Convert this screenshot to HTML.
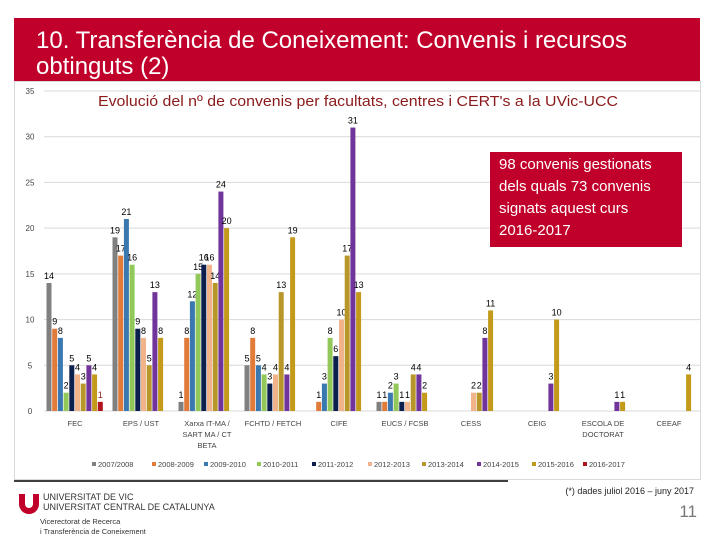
<!DOCTYPE html>
<html><head><meta charset="utf-8"><style>
body{margin:0;width:720px;height:540px;background:#fff;overflow:hidden;font-family:"Liberation Sans",sans-serif;position:relative}
#title{position:absolute;left:14px;top:18px;width:686px;height:63px;background:#c0002a;}
#title span{position:absolute;left:22px;top:10px;color:#fff;font-size:24px;line-height:26px;white-space:nowrap}
#callout{position:absolute;left:490px;top:152px;width:192px;height:95px;background:#c0002a;color:#fff;font-size:15px;line-height:22px;padding:2px 0 0 9px;box-sizing:border-box;white-space:nowrap}
svg{position:absolute;left:0;top:0}
</style></head><body>
<div id="title"><span>10. Transferència de Coneixement: Convenis i recursos<br>obtinguts (2)</span></div>
<svg id="chart" width="720" height="540"></svg>
<div id="callout">98 convenis gestionats<br>dels quals 73 convenis<br>signats aquest curs<br>2016-2017</div>
<script>
const categories=[["FEC"],["EPS / UST"],["Xarxa IT-MA /","SART MA / CT","BETA"],["FCHTD / FETCH"],["CIFE"],["EUCS / FCSB"],["CESS"],["CEIG"],["ESCOLA DE","DOCTORAT"],["CEEAF"]];
const seriesNames=["2007/2008","2008-2009","2009-2010","2010-2011","2011-2012","2012-2013","2013-2014","2014-2015","2015-2016","2016-2017"];
const s2007=[14,19,1,5,null,1,null,null,null,null];
const s2008=[9,17,8,8,1,1,null,null,null,null];
const s2009=[8,21,12,5,3,2,null,null,null,null];
const s2010=[2,16,15,4,8,3,null,null,null,null];
const s2011=[5,9,16,3,6,1,null,null,null,null];
const s2012=[4,8,16,4,10,1,2,null,null,null];
const s2013=[3,5,14,13,17,4,2,null,null,null];
const s2014=[5,13,24,4,31,4,8,3,1,null];
const s2015=[4,8,20,19,13,2,11,10,1,4];
const s2016=[1,null,null,null,null,null,null,null,null,null];
const yTicks=[0,5,10,15,20,25,30,35];
const seriesValues=[s2007,s2008,s2009,s2010,s2011,s2012,s2013,s2014,s2015,s2016];
const colors=["#808080","#e07b39","#3a78b0","#92c85a","#0d1f4d","#f0b38a","#b8962a","#70349a","#c39a1a","#b0151f"];
const NS="http://www.w3.org/2000/svg";
const svg=document.getElementById('chart');
function mk(t,a,txt){const e=document.createElementNS(NS,t);for(const k in a)e.setAttribute(k,a[k]);if(txt!==undefined)e.textContent=txt;svg.appendChild(e);return e;}
const y=v=>411-v*(320/35);
const gx=i=>75+66*i;
const bx=(i,s)=>gx(i)-28.5+s*5.7;
let fr=mk('rect',{x:14.5,y:81.5,width:686,height:398,fill:'none',stroke:'#d9d9d9'});

let ct=mk('text',{x:98,y:106,'font-size':15,fill:'#8b1a1a',textLength:520,lengthAdjust:'spacingAndGlyphs'},"Evolució del nº de convenis per facultats, centres i CERT's a la UVic-UCC");

yTicks.forEach(t=>{
 let l=mk('line',{x1:44,x2:700,y1:y(t),y2:y(t),stroke:'#d9d9d9'});
 
 let tx=mk('text',{x:30,y:y(t)+3,'font-size':8,fill:'#444','text-anchor':'middle'},String(t));
 
});
seriesValues.forEach((arr,s)=>{arr.forEach((v,i)=>{
 if(v===null)return;
 const x=bx(i,s);
 let r=mk('rect',{x:x,y:y(v),width:5,height:Math.max(0,411-y(v)),fill:colors[s]});
 
 
 let t=mk('text',{x:x+2.5,y:y(v)-4,'font-size':9,fill:s===9?'#8b1a1a':'#000','text-anchor':'middle'},String(v));
 
 
});});
categories.forEach((c,i)=>{c.forEach((ln,k)=>{
 let t=mk('text',{x:gx(i),y:426+k*11,'font-size':7.5,fill:'#444','text-anchor':'middle'},ln);
 
 
});});
const lx=[92,152,204,257,312,368,422,477,532,583];
seriesNames.forEach((n,s)=>{
 let r=mk('rect',{x:lx[s],y:462,width:4,height:4,fill:colors[s]});
 
 
 let t=mk('text',{x:lx[s]+6,y:467,'font-size':7.5,fill:'#444'},n);
 
 
});
let bl=mk('line',{x1:14,x2:508,y1:481,y2:481,stroke:'#000','stroke-width':1.5});

let lg=mk('path',{d:'M19 494 h6 v10 a4 4 0 0 0 8 0 v-10 h6 v10 a10 10 0 0 1 -20 0 z',fill:'#c0002a'});

[["UNIVERSITAT DE VIC",43,500,9,'#333'],["UNIVERSITAT CENTRAL DE CATALUNYA",43,510,9,'#333'],["Vicerectorat de Recerca",40,524,7.5,'#333'],["i Transferència de Coneixement",40,534,7.5,'#333']].forEach(a=>{
 let t=mk('text',{x:a[1],y:a[2],'font-size':a[3],fill:a[4]},a[0]);
 
});
let fn=mk('text',{x:694,y:494,'font-size':9,fill:'#222','text-anchor':'end'},"(*) dades juliol 2016 – juny 2017");

let pn=mk('text',{x:697,y:517,'font-size':17,fill:'#777','text-anchor':'end'},"11");

</script>
</body></html>
